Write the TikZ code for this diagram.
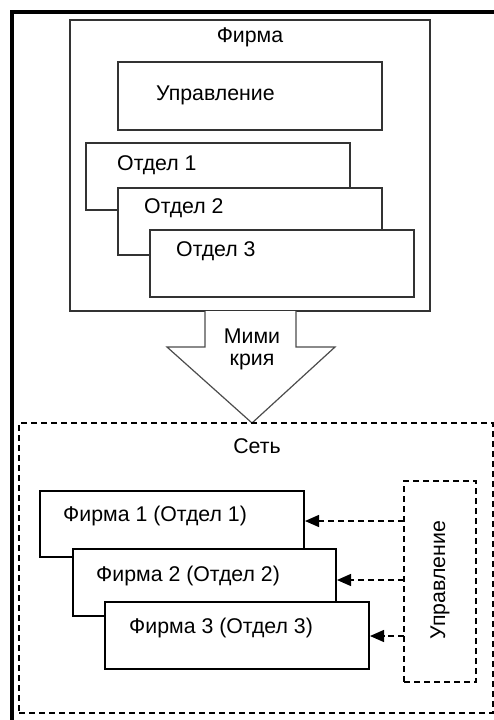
\documentclass[tikz,border=0pt]{standalone}
\usepackage{fontspec}
\setmainfont{Liberation Sans}
\usetikzlibrary{arrows.meta}
\begin{document}
\begin{tikzpicture}[x=1pt,y=-1pt,
  box/.style={draw=black!80,line width=1.3pt,fill=white,inner sep=0pt,outer sep=0pt},
  dbox/.style={draw=black,line width=1.3pt,dash pattern=on 6pt off 4pt,inner sep=0pt,outer sep=0pt},
  txt/.style={font=\fontsize{21.3}{25}\selectfont,inner sep=0pt,anchor=base west},
  ctxt/.style={font=\fontsize{21.3}{25}\selectfont,inner sep=0pt,anchor=base},
  darr/.style={draw=black,line width=1.3pt,dash pattern=on 6pt off 4pt,-{Triangle[length=14pt,width=12pt,sep=1pt]}}]
\useasboundingbox (0,0) rectangle (494,720);
% outer thick frame
\draw[line width=4pt] (12,722) -- (12,12) -- (496,12);
% firm
\node[box,minimum width=360pt,minimum height=291pt,anchor=north west] (firm) at (70,20) {};
\node[ctxt] (firmt) at (250,42) {Фирма};
\node[box,minimum width=264pt,minimum height=68pt,anchor=north west] (upr) at (118,62) {};
\node[txt] (uprt) at (156,100) {Управление};
\node[box,minimum width=264pt,minimum height=67pt,anchor=north west] (d1) at (86,143) {};
\node[txt] (d1t) at (117,170) {Отдел 1};
\node[box,minimum width=264pt,minimum height=67pt,anchor=north west] (d2) at (118,188) {};
\node[txt] (d2t) at (144,213) {Отдел 2};
\node[box,minimum width=264pt,minimum height=67pt,anchor=north west] (d3) at (150,230) {};
\node[txt] (d3t) at (176,256) {Отдел 3};
% mimicry arrow
\draw[draw=black!70,line width=1.2pt,fill=white] (205,311) -- (205,347) -- (167,347) -- (252,423) -- (335,347) -- (296,347) -- (296,311);
\node[ctxt] (mt1) at (252,343) {Мими};
\node[ctxt] (mt2) at (252,365) {крия};
% network
\node[dbox,minimum width=474pt,minimum height=290pt,anchor=north west] (net) at (19,423) {};
\node[ctxt] (nett) at (257,453) {Сеть};
\node[box,draw=black,minimum width=264pt,minimum height=66pt,anchor=north west] (f1) at (40,491) {};
\node[txt] (f1t) at (63,521) {Фирма 1 (Отдел 1)};
\node[box,draw=black,minimum width=263pt,minimum height=67pt,anchor=north west] (f2) at (73,549) {};
\node[txt] (f2t) at (96,581) {Фирма 2 (Отдел 2)};
\node[box,draw=black,minimum width=264pt,minimum height=67pt,anchor=north west] (f3) at (105,602) {};
\node[txt] (f3t) at (129,633) {Фирма 3 (Отдел 3)};
\node[dbox,minimum width=72pt,minimum height=201pt,anchor=north west] (mgmt) at (404,481) {};
\node[font=\fontsize{21.3}{25}\selectfont,inner sep=0pt,rotate=90] (mgmtt) at (440,580) {Управление};
\draw[darr] (mgmt.west |- 0,521) -- (f1.east |- 0,521);
\draw[darr] (mgmt.west |- 0,580) -- (f2.east |- 0,580);
\draw[darr] (mgmt.west |- 0,636) -- (f3.east |- 0,636);
\end{tikzpicture}
\end{document}
